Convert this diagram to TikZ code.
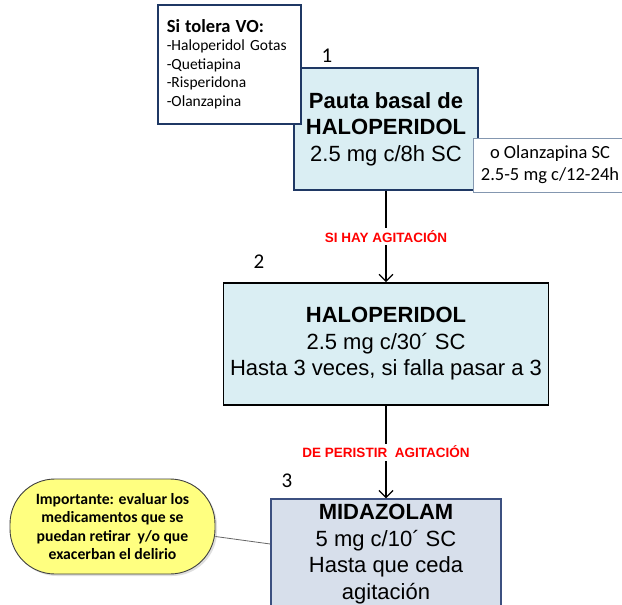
\documentclass[tikz,border=0pt]{standalone}
\usepackage{fontspec}
\setmainfont{Liberation Sans}
\newfontfamily\calfont{Carlito}
\usetikzlibrary{arrows.meta,shadows}
\definecolor{navyb}{HTML}{1F3864}
\definecolor{aquafill}{HTML}{DAEEF3}
\definecolor{lavfill}{HTML}{D7DFEB}
\definecolor{lavdraw}{HTML}{3C5080}
\definecolor{olzdraw}{HTML}{8497B0}
\definecolor{calloutfill}{HTML}{FFFF80}
\definecolor{calloutdraw}{HTML}{404040}
\begin{document}
\begin{tikzpicture}[x=1pt,y=-1pt,
  mainbox/.style={draw, line width=1.8pt, align=center, inner sep=0pt,
    font=\fontsize{22}{26.5}\selectfont},
  sidebox/.style={draw=navyb, line width=1.5pt, fill=white, align=left,
    inner xsep=9pt, inner ysep=0pt, font=\calfont\fontsize{15.5}{18.5}\selectfont},
  olzbox/.style={draw=olzdraw, line width=1pt, fill=white, align=center,
    inner sep=0pt, font=\calfont\fontsize{18.5}{22}\selectfont},
  numlabel/.style={font=\calfont\fontsize{21}{22}\selectfont, inner sep=0pt},
  arr/.style={line width=1.2pt, -{Straight Barb[length=7pt,width=14pt,line width=1.2pt]}},
  redlabel/.style={fill=white, text=red, inner sep=2.5pt,
    font=\bfseries\fontsize{13.5}{15}\selectfont},
  calloutbox/.style={draw=calloutdraw, line width=0.9pt, fill=calloutfill,
    rounded corners=45pt, align=center, inner sep=0pt,
    font=\calfont\bfseries\fontsize{15.7}{18.5}\selectfont,
    drop shadow={opacity=0.25, shadow xshift=2pt, shadow yshift=-2pt}}
]
\useasboundingbox (0,0) rectangle (622,605);
\clip (0,0) rectangle (622,605);
\fill[white] (0,0) rectangle (622,605);

% box 1
\node[mainbox, draw=navyb, fill=aquafill, minimum width=184pt, minimum height=122pt]
  (b1) at (386,129) {\textbf{Pauta basal de}\\\textbf{HALOPERIDOL}\\2.5 mg c/8h SC};
% side boxes
\node[sidebox, anchor=north west, text width=125pt, minimum height=119pt]
  (si) at (157,4) {{\fontsize{18.5}{18.5}\selectfont\bfseries Si tolera VO:}\\-Haloperidol Gotas\\-Quetiapina\\-Risperidona\\-Olanzapina};
\node[olzbox, minimum width=154pt, minimum height=54pt]
  (olz) at (550,165) {o Olanzapina SC\\2.5-5 mg c/12-24h};
\node[numlabel] (n1) at (327,56) {1};

% box 2
\node[mainbox, draw=black, fill=aquafill, minimum width=325pt, minimum height=122pt]
  (b2) at (386,344) {\textbf{HALOPERIDOL}\\2.5 mg c/30´ SC\\Hasta 3 veces, si falla pasar a 3};
\node[numlabel] (n2) at (259,262) {2};

% box 3
\node[mainbox, draw=lavdraw, line width=1.5pt, fill=lavfill, minimum width=230pt, minimum height=110pt]
  (b3) at (386,554) {\textbf{MIDAZOLAM}\\5 mg c/10´ SC\\Hasta que ceda\\agitación};
\node[numlabel] (n3) at (287,481) {3};

% arrows
\draw[arr] (b1) -- (b2) node[midway, redlabel] {SI HAY AGITACIÓN};
\draw[arr] (b2) -- (b3) node[midway, redlabel] {DE PERISTIR\ \ AGITACIÓN};

% callout
\node[calloutbox, minimum width=205pt, minimum height=95pt]
  (co) at (112.5,526.5) {Importante: evaluar los\\medicamentos que se\\puedan retirar\ \ y/o que\\exacerban el delirio};
\draw[line width=0.8pt, gray!80!black] ([yshift=-10pt]co.east) -- ([yshift=10pt]b3.west);
\end{tikzpicture}
\end{document}
